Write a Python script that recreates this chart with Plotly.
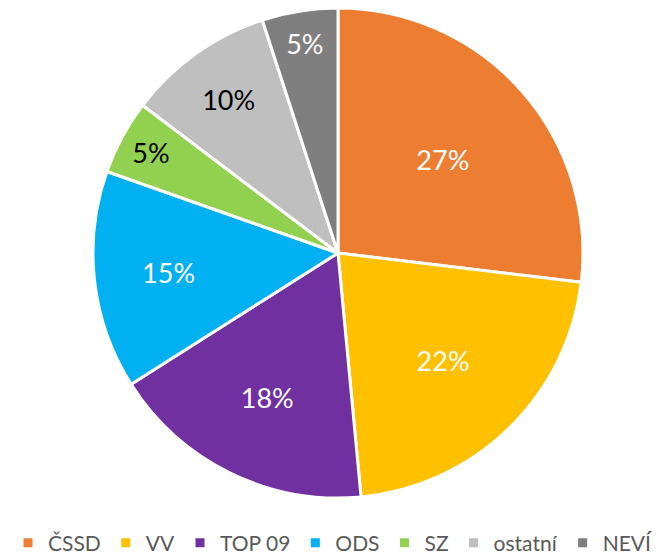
import plotly.graph_objects as go

parties = ["ČSSD", "VV", "TOP 09", "ODS", "SZ", "ostatní", "NEVÍ"]
shares = [26.9, 21.6, 17.5, 14.4, 4.9, 9.7, 5.0]
share_labels = ["27%", "22%", "18%", "15%", "5%", "10%", "5%"]
colors = ["#ED7D31", "#FFC000", "#7030A0", "#00B0F0", "#92D050", "#BFBFBF", "#7F7F7F"]
text_colors = ["white", "white", "white", "white", "black", "black", "white"]

fig = go.Figure(go.Pie(
    labels=parties,
    values=shares,
    text=share_labels,
    texttemplate="%{text}",
    textinfo="text",
    textposition="inside",
    insidetextorientation="horizontal",
    textfont=dict(family="Lato, Open Sans, sans-serif", size=27, color=text_colors),
    marker=dict(colors=colors, line=dict(color="white", width=3)),
    sort=False,
    direction="clockwise",
    rotation=0,
    domain=dict(x=[0.1274, 0.8621], y=[0.1155, 1.0]),
    hoverinfo="label+percent",
))

fig.update_layout(
    width=667, height=554,
    margin=dict(l=0, r=0, t=0, b=0, autoexpand=False),
    paper_bgcolor="white",
    plot_bgcolor="white",
    showlegend=True,
    legend=dict(
        orientation="h",
        x=0.0, xanchor="left",
        y=0.034, yanchor="middle",
        font=dict(family="Lato, Open Sans, sans-serif", size=21, color="#595959"),
        itemwidth=30,
        traceorder="normal",
    ),
)

fig.write_html("out.html")
